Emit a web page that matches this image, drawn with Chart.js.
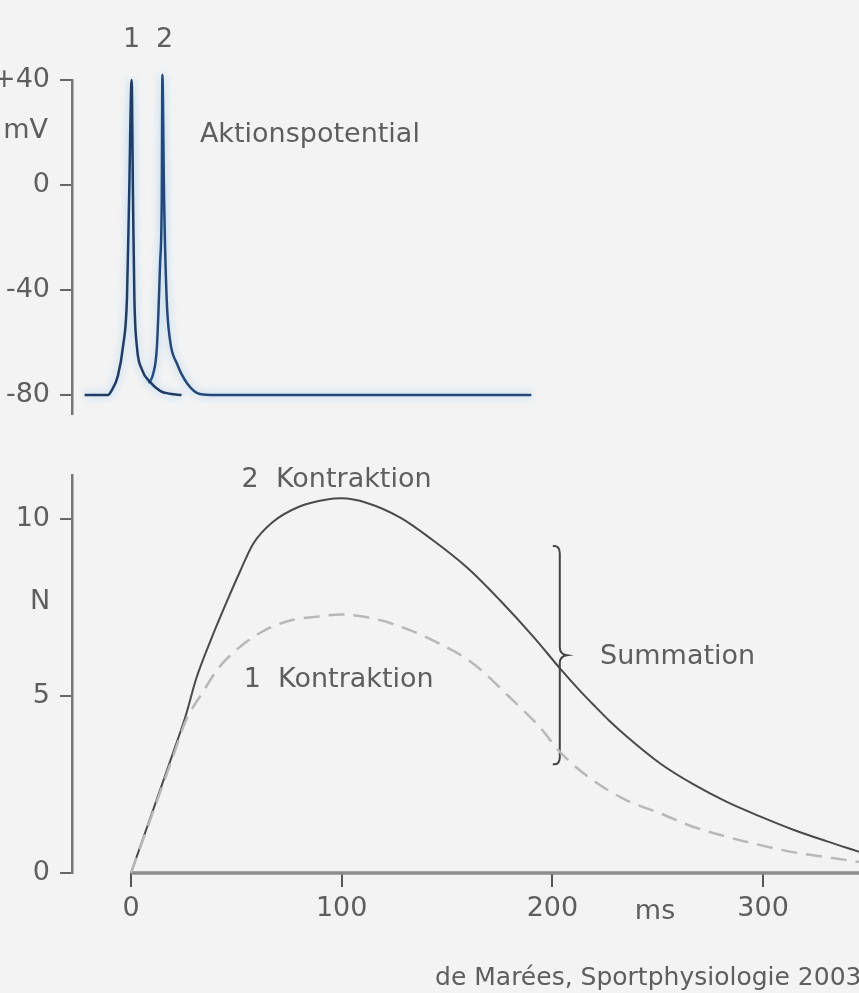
<!DOCTYPE html>
<html>
<head>
<meta charset="utf-8">
<script src="https://cdn.jsdelivr.net/npm/chart.js@4"></script>
<style>
  html, body { margin: 0; padding: 0; background: #f3f3f3; }
  body { width: 859px; height: 993px; position: relative; overflow: hidden; }
  #apBox { position: absolute; left: 0; top: 0; width: 859px; height: 440px; }
  #forceBox { position: absolute; left: 0; top: 440px; width: 859px; height: 553px; }
</style>
</head>
<body>
<div id="apBox"><canvas id="apChart"></canvas></div>
<div id="forceBox"><canvas id="forceChart"></canvas></div>
<script>
// Aktionspotential 1 (Zeit ms / Spannung mV)
const ap1Time = [-22, -11, -9, -6.2, -3.8, -1.9, -0.9, 0.3, 0.95, 1.6, 2.8, 5.2, 9, 14, 18.5, 24];
const ap1Volt = [-80, -80, -78, -72.6, -61.6, -42.8, -5, 40, -5, -42.8, -61.6, -70.3, -75, -78.5, -79.5, -80];

// Aktionspotential 2, startet aus dem Tal des ersten
const ap2Time = [8.5, 10.5, 12.3, 13.8, 14.6, 14.9, 15.7, 16.9, 18.5, 21.8, 26.6, 32.7, 40, 190];
const ap2Volt = [-75.5, -72, -61.6, -30, -5, 42, -5, -42.8, -59, -68, -75.5, -79.6, -80, -80];

// 2. Kontraktion (Summation), Kraft in N
const sumTime = [0, 10, 20, 26, 31, 38, 45, 52, 58, 67, 80, 93, 100, 112, 128, 143, 160, 175, 191, 204, 213, 219, 227, 235, 251, 267, 283, 298.5, 314, 330, 345.5];
const sumForce = [0, 1.7, 3.4, 4.45, 5.5, 6.6, 7.6, 8.55, 9.3, 9.9, 10.35, 10.55, 10.58, 10.45, 10.03, 9.41, 8.6, 7.71, 6.67, 5.75, 5.15, 4.78, 4.3, 3.87, 3.1, 2.5, 2.0, 1.6, 1.23, 0.9, 0.6];

// 1. Kontraktion (Einzelzuckung)
const singleTime = [0, 10, 20, 26, 34, 41, 52, 65, 77, 88, 100, 112, 123, 143, 162, 181, 194, 204, 219, 235, 251, 267, 283, 298.5, 314, 330, 345.5];
const singleForce = [0, 1.65, 3.3, 4.3, 5.1, 5.75, 6.4, 6.9, 7.15, 7.24, 7.3, 7.22, 7.06, 6.58, 5.93, 4.89, 4.12, 3.39, 2.63, 2.06, 1.69, 1.3, 1.02, 0.79, 0.59, 0.45, 0.31];

// Achsenbeschriftung
const timeTicks = [0, 100, 200, 300];
const apTicks = [40, 0, -40, -80];
const forceTicks = [0, 5, 10];

const textColor = '#5e5e5e';
const fontFamily = '"DejaVu Sans", "Liberation Sans", sans-serif';
const labelFont = { family: fontFamily, size: 27 };

function toPoints(xs, ys) {
    return xs.map((x, i) => ({ x: x, y: ys[i] }));
}

// gleiche Zeitachse fuer beide Diagramme
function timeScale(show) {
    return {
        type: 'linear',
        min: -28,
        max: 345.5,
        display: show,
        afterBuildTicks: s => { s.ticks = timeTicks.map(v => ({ value: v })); },
        afterFit: s => { s.height = show ? 60 : 0; },
        grid: { display: true, drawOnChartArea: false, drawTicks: true, tickLength: 14, color: '#555', lineWidth: 2 },
        border: { display: false },
        ticks: { font: labelFont, color: textColor, padding: 6, maxRotation: 0 }
    };
}

function valueScale(min, max, tickValues, fmt) {
    return {
        type: 'linear',
        min: min,
        max: max,
        afterBuildTicks: s => { s.ticks = tickValues.map(v => ({ value: v })); },
        afterFit: s => { s.width = 72; },
        grid: { drawOnChartArea: false, tickLength: 12, color: '#666', lineWidth: 2 },
        border: { display: true, color: '#777', width: 2.5 },
        ticks: { font: labelFont, color: textColor, padding: 10, callback: fmt }
    };
}

// Texte an Datenpositionen zeichnen
function textPlugin(items) {
    return {
        id: 'texts',
        afterDraw(chart) {
            const ctx = chart.ctx;
            const xs = chart.scales.x, ys = chart.scales.y;
            ctx.save();
            ctx.fillStyle = textColor;
            ctx.textBaseline = 'middle';
            items.forEach(t => {
                ctx.font = (t.size || 27) + 'px ' + fontFamily;
                ctx.textAlign = t.align || 'left';
                ctx.fillText(t.text, xs.getPixelForValue(t.x), ys.getPixelForValue(t.y));
            });
            ctx.restore();
        }
    };
}

// leichter blauer Schein um die Aktionspotentiale
const glowPlugin = {
    id: 'glow',
    beforeDatasetsDraw(chart) {
        chart.ctx.save();
        chart.ctx.shadowColor = 'rgba(100, 175, 235, 0.6)';
        chart.ctx.shadowBlur = 9;
    },
    afterDatasetsDraw(chart) {
        chart.ctx.restore();
    }
};

// x-Achse beginnt erst bei 0 ms, dazu die Klammer "Summation"
const forceDecor = {
    id: 'forceDecor',
    beforeDatasetsDraw(chart) {
        const ctx = chart.ctx;
        const xs = chart.scales.x, ys = chart.scales.y;
        const y0 = ys.getPixelForValue(0);
        ctx.save();
        ctx.strokeStyle = '#8c8c8c';
        ctx.lineWidth = 3.5;
        ctx.beginPath();
        ctx.moveTo(xs.getPixelForValue(0), y0);
        ctx.lineTo(xs.right, y0);
        ctx.stroke();

        const bx = xs.getPixelForValue(203.5);
        const top = ys.getPixelForValue(9.2);
        const mid = ys.getPixelForValue(6.15);
        const bot = ys.getPixelForValue(3.1);
        ctx.strokeStyle = '#444';
        ctx.lineWidth = 2;
        ctx.beginPath();
        ctx.moveTo(bx - 7, top - 1);
        ctx.quadraticCurveTo(bx, top - 2, bx, top + 6);
        ctx.lineTo(bx, mid - 8);
        ctx.quadraticCurveTo(bx, mid - 1, bx + 7, mid);
        ctx.quadraticCurveTo(bx, mid + 1, bx, mid + 8);
        ctx.lineTo(bx, bot - 6);
        ctx.quadraticCurveTo(bx, bot + 2, bx - 7, bot + 1);
        ctx.stroke();
        ctx.restore();
    }
};

new Chart(document.getElementById('apChart'), {
    type: 'line',
    data: {
        datasets: [
            { data: toPoints(ap1Time, ap1Volt), borderColor: '#1f3c66', borderWidth: 2.5 },
            { data: toPoints(ap2Time, ap2Volt), borderColor: '#23497a', borderWidth: 2.5 }
        ]
    },
    options: {
        responsive: true,
        maintainAspectRatio: false,
        animation: false,
        events: [],
        layout: { padding: { top: 80, right: 0, bottom: 22, left: 0 } },
        elements: { point: { radius: 0 }, line: { cubicInterpolationMode: 'monotone', fill: false } },
        datasets: { line: { clip: false } },
        scales: {
            x: timeScale(false),
            y: valueScale(-87.15, 40, apTicks, v => (v > 0 ? '+' + v : String(v)))
        },
        plugins: { legend: { display: false }, tooltip: { enabled: false } }
    },
    plugins: [glowPlugin, textPlugin([
        { text: '1', x: 0.3, y: 55.4, align: 'center' },
        { text: '2', x: 16, y: 55.4, align: 'center' },
        { text: 'Aktionspotential', x: 32.7, y: 18.9 },
        { text: 'mV', x: -39.4, y: 20.4, align: 'right' }
    ])]
});

new Chart(document.getElementById('forceChart'), {
    type: 'line',
    data: {
        datasets: [
            { label: '1 Kontraktion', data: toPoints(singleTime, singleForce), borderColor: '#b8b8b8', borderWidth: 2.5, borderDash: [16, 9] },
            { label: '2 Kontraktion', data: toPoints(sumTime, sumForce), borderColor: '#4a4a4a', borderWidth: 2 }
        ]
    },
    options: {
        responsive: true,
        maintainAspectRatio: false,
        animation: false,
        events: [],
        layout: { padding: { top: 35, right: 0, bottom: 60, left: 0 } },
        elements: { point: { radius: 0 }, line: { cubicInterpolationMode: 'monotone', fill: false } },
        datasets: { line: { clip: false } },
        scales: {
            x: timeScale(true),
            y: valueScale(0, 11.24, forceTicks, v => String(v))
        },
        plugins: { legend: { display: false }, tooltip: { enabled: false } }
    },
    plugins: [forceDecor, textPlugin([
        { text: '2  Kontraktion', x: 52.5, y: 11.1 },
        { text: '1  Kontraktion', x: 53.5, y: 5.45 },
        { text: 'Summation', x: 222.6, y: 6.1 },
        { text: 'N', x: -38.4, y: 7.65, align: 'right' },
        { text: 'ms', x: 248.7, y: -1.1, align: 'center' },
        { text: 'de Marées, Sportphysiologie 2003', x: 144.3, y: -2.97, size: 25 }
    ])]
});
</script>
</body>
</html>
